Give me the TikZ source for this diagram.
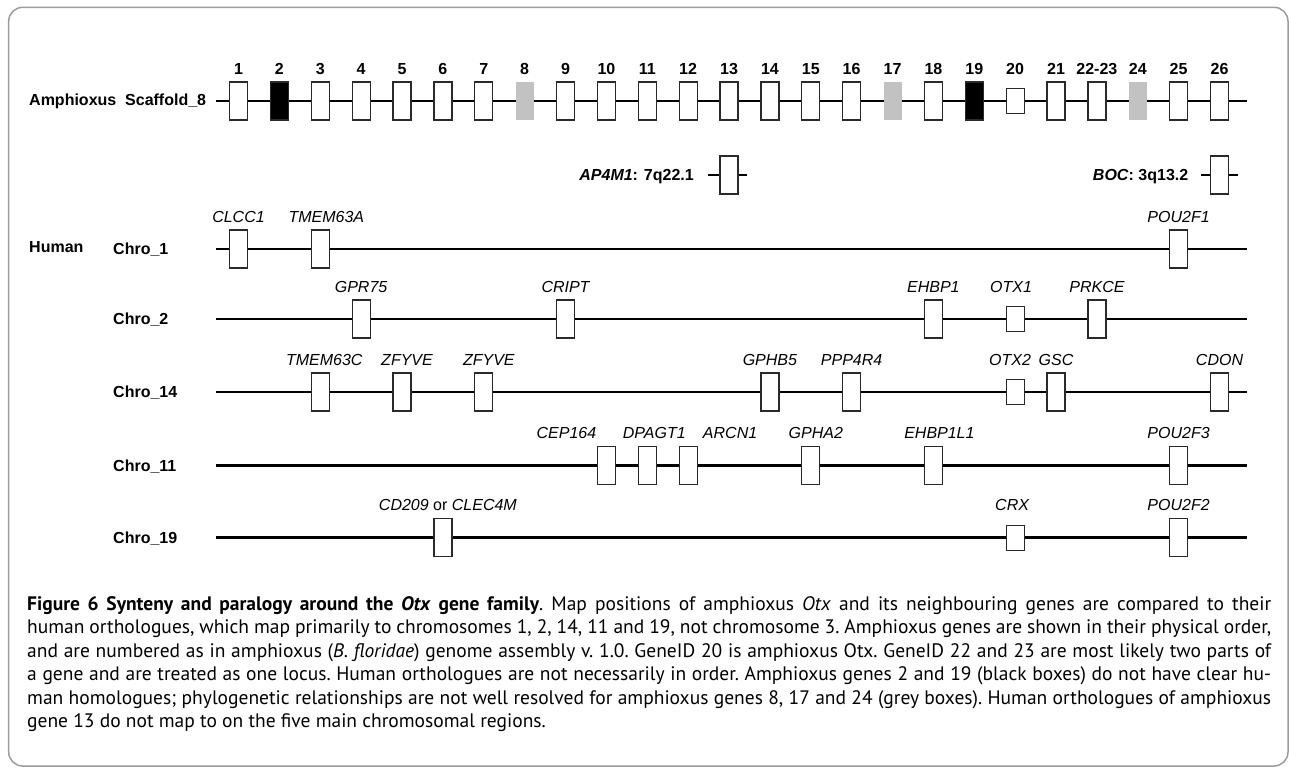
\documentclass[tikz,border=0pt]{standalone}
\usepackage{fontspec}
\setmainfont{Liberation Sans}
\newfontfamily\capfont{PT Sans}
\usepackage{xcolor}
\usetikzlibrary{positioning}
\definecolor{framegray}{HTML}{9C9C9C}
\definecolor{genegrey}{HTML}{C2C2C2}
\definecolor{boxline}{HTML}{2A2A2A}

\begin{document}
\begin{tikzpicture}[x=1pt,y=-1pt,
chro/.style={line width=2.5pt},
box/.style={draw=boxline,fill=white,line width=1.2pt,minimum width=18pt,minimum height=38pt,inner sep=0pt},
sbox/.style={box,minimum height=25pt},
greybox/.style={box,draw=none,fill=genegrey},
blackbox/.style={box,fill=black},
num/.style={font=\fontsize{16}{19}\selectfont\bfseries,inner sep=0pt},
glab/.style={font=\fontsize{16}{19}\selectfont\itshape,inner sep=0pt},
lab/.style={font=\fontsize{16}{19}\selectfont\bfseries,inner sep=0pt},
captext/.style={font=\capfont\fontsize{19.5}{23.5}\selectfont\frenchspacing,inner sep=0pt,anchor=base west},
label distance=7pt
]
\useasboundingbox (0,0) rectangle (1289,772);
\draw[framegray,line width=1.5pt,rounded corners=14pt] (8.7,7.3) rectangle (1288,766);

% amphioxus scaffold
\node[lab,anchor=base west] (amph) at (29,105.8) {Amphioxus\ \ Scaffold\_8};
\coordinate (scL) at (215.8,101);
\coordinate (scR) at (1246.6,101);
\draw[chro] (scL) -- (scR);
\node[box,label={[num]above:1}] (s1) at (238.5,101) {};
\node[blackbox,label={[num]above:2}] (s2) at (279.4,101) {};
\node[box,label={[num]above:3}] (s3) at (320.3,101) {};
\node[box,label={[num]above:4}] (s4) at (361.1,101) {};
\node[box,label={[num]above:5}] (s5) at (402.0,101) {};
\node[box,label={[num]above:6}] (s6) at (442.9,101) {};
\node[box,label={[num]above:7}] (s7) at (483.8,101) {};
\node[greybox,label={[num]above:8}] (s8) at (524.6,101) {};
\node[box,label={[num]above:9}] (s9) at (565.5,101) {};
\node[box,label={[num]above:10}] (s10) at (606.4,101) {};
\node[box,label={[num]above:11}] (s11) at (647.3,101) {};
\node[box,label={[num]above:12}] (s12) at (688.1,101) {};
\node[box,label={[num]above:13}] (s13) at (729.0,101) {};
\node[box,label={[num]above:14}] (s14) at (769.9,101) {};
\node[box,label={[num]above:15}] (s15) at (810.8,101) {};
\node[box,label={[num]above:16}] (s16) at (851.6,101) {};
\node[greybox,label={[num]above:17}] (s17) at (892.5,101) {};
\node[box,label={[num]above:18}] (s18) at (933.4,101) {};
\node[blackbox,label={[num]above:19}] (s19) at (974.3,101) {};
\node[sbox,label={[num,yshift=6.5pt]above:20}] (s20) at (1015.1,101) {};
\node[box,label={[num]above:21}] (s21) at (1056.0,101) {};
\node[box,label={[num]above:22-23}] (s22) at (1096.9,101) {};
\node[greybox,label={[num]above:24}] (s24) at (1137.8,101) {};
\node[box,label={[num]above:25}] (s25) at (1178.6,101) {};
\node[box,label={[num]above:26}] (s26) at (1219.5,101) {};

% off-map orthologues
\coordinate (apL) at (707.6,175);
\coordinate (apR) at (746.6,175);
\draw[chro] (apL) -- (apR);
\node[box] (ap) at (729.0,175) {};
\node[lab,anchor=base east] (aplab) at (694,180.8) {\textit{AP4M1}: 7q22.1};
\coordinate (bocL) at (1201,175);
\coordinate (bocR) at (1238,175);
\draw[chro] (bocL) -- (bocR);
\node[box] (boc) at (1219.5,175) {};
\node[lab,anchor=base east] (boclab) at (1188.5,180.8) {\textit{BOC}: 3q13.2};

% human chromosomes
\node[lab,anchor=base west] (human) at (29,252.8) {Human};
\node[lab,anchor=base west] (c1lab) at (113,254.8) {Chro\_1};
\node[lab,anchor=base west] (c2lab) at (113,324.8) {Chro\_2};
\node[lab,anchor=base west] (c14lab) at (113,397.8) {Chro\_14};
\node[lab,anchor=base west] (c11lab) at (113,471.3) {Chro\_11};
\node[lab,anchor=base west] (c19lab) at (113,543.5) {Chro\_19};
\coordinate (c1L) at (215.8,249);
\coordinate (c1R) at (1246.6,249);
\coordinate (c2L) at (215.8,319);
\coordinate (c2R) at (1246.6,319);
\coordinate (c14L) at (215.8,392);
\coordinate (c14R) at (1246.6,392);
\coordinate (c11L) at (215.8,465.5);
\coordinate (c11R) at (1246.6,465.5);
\coordinate (c19L) at (215.8,537.7);
\coordinate (c19R) at (1246.6,537.7);
\draw[chro] (c1L) -- (c1R);
\draw[chro] (c2L) -- (c2R);
\draw[chro] (c14L) -- (c14R);
\draw[chro] (c11L) -- (c11R);
\draw[chro] (c19L) -- (c19R);

% Chro_1
\node[box,label={[glab]above:CLCC1}] (clcc1) at (238.5,249) {};
\node[box,label={[glab,xshift=6pt]above:TMEM63A}] (tmem63a) at (320.3,249) {};
\node[box,label={[glab]above:POU2F1}] (pou2f1) at (1178.6,249) {};
% Chro_2
\node[box,label={[glab]above:GPR75}] (gpr75) at (361.1,319) {};
\node[box,label={[glab]above:CRIPT}] (cript) at (565.5,319) {};
\node[box,label={[glab]above:EHBP1}] (ehbp1) at (933.4,319) {};
\node[sbox,label={[glab,yshift=6.5pt,xshift=-4pt]above:OTX1}] (otx1) at (1015.1,319) {};
\node[box,label={[glab]above:PRKCE}] (prkce) at (1096.9,319) {};
% Chro_14
\node[box,label={[glab,xshift=4pt]above:TMEM63C}] (tmem63c) at (320.3,392) {};
\node[box,label={[glab,xshift=5pt]above:ZFYVE}] (zfyvea) at (402.0,392) {};
\node[box,label={[glab,xshift=5pt]above:ZFYVE}] (zfyveb) at (483.8,392) {};
\node[box,label={[glab]above:GPHB5}] (gphb5) at (769.9,392) {};
\node[box,label={[glab]above:PPP4R4}] (ppp4r4) at (851.6,392) {};
\node[sbox,label={[glab,yshift=6.5pt,xshift=-5pt]above:OTX2}] (otx2) at (1015.1,392) {};
\node[box,label={[glab]above:GSC}] (gsc) at (1056.0,392) {};
\node[box,label={[glab]above:CDON}] (cdon) at (1219.5,392) {};
% Chro_11
\node[box,label={[glab,xshift=-40pt]above:CEP164}] (cep164) at (606.4,465.5) {};
\node[box,label={[glab,xshift=7pt]above:DPAGT1}] (dpagt1) at (647.3,465.5) {};
\node[box,label={[glab,xshift=42pt]above:ARCN1}] (arcn1) at (688.1,465.5) {};
\node[box,label={[glab,xshift=5pt]above:GPHA2}] (gpha2) at (810.8,465.5) {};
\node[box,label={[glab,xshift=6pt]above:EHBP1L1}] (ehbp1l1) at (933.4,465.5) {};
\node[box,label={[glab]above:POU2F3}] (pou2f3) at (1178.6,465.5) {};
% Chro_19
\node[box,label={[glab,xshift=5pt]above:{CD209 \textup{or} CLEC4M}}] (cd209) at (442.9,537.7) {};
\node[sbox,label={[glab,yshift=6.5pt,xshift=-3pt]above:CRX}] (crx) at (1015.1,537.7) {};
\node[box,label={[glab]above:POU2F2}] (pou2f2) at (1178.6,537.7) {};

% caption
\node[captext] (cap1) at (27,610) {\makebox[1244pt][s]{\textbf{Figure 6 Synteny and paralogy around the \textit{Otx} gene family}. Map positions of amphioxus \textit{Otx} and its neighbouring genes are compared to their}};
\node[captext] (cap2) at (27,633.5) {\makebox[1244pt][s]{human orthologues, which map primarily to chromosomes 1, 2, 14, 11 and 19, not chromosome 3. Amphioxus genes are shown in their physical order,}};
\node[captext] (cap3) at (27,657) {\makebox[1244pt][s]{and are numbered as in amphioxus (\textit{B. floridae}) genome assembly v. 1.0. GeneID 20 is amphioxus Otx. GeneID 22 and 23 are most likely two parts of}};
\node[captext] (cap4) at (27,680.5) {\makebox[1244pt][s]{a gene and are treated as one locus. Human orthologues are not necessarily in order. Amphioxus genes 2 and 19 (black boxes) do not have clear hu-}};
\node[captext] (cap5) at (27,704) {\makebox[1244pt][s]{man homologues; phylogenetic relationships are not well resolved for amphioxus genes 8, 17 and 24 (grey boxes). Human orthologues of amphioxus}};
\node[captext] (cap6) at (27,727.5) {gene 13 do not map to on the five main chromosomal regions.};
\end{tikzpicture}
\end{document}
